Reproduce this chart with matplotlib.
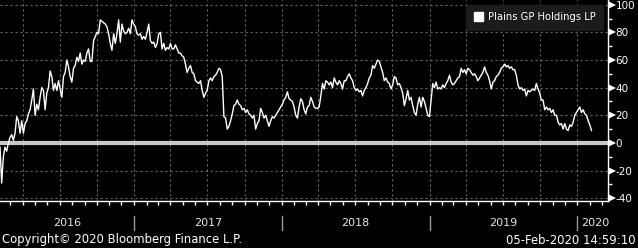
import numpy as np
import pandas as pd
import matplotlib
matplotlib.use('Agg')
import matplotlib.pyplot as plt
import matplotlib.dates as mdates
from matplotlib.patches import Patch

plt.rcParams['font.family'] = ['DejaVu Sans']
plt.rcParams['axes.unicode_minus'] = False

# series, evenly spaced from first to last date
start_date = '2016-02-05'
end_date = '2020-02-05'
values = [
    -3, -29, -10, -3, -6, 0, 4, 6, 2, 7, 19, 16, 7, 16, 7, 14, 16, 21, 24, 31,
    39, 20, 28, 24, 33, 40, 38, 24, 36, 40, 52, 48, 38, 43, 38, 45, 39, 33, 48, 51,
    60, 55, 48, 44, 54, 56, 62, 59, 65, 57, 60, 59, 65, 68, 59, 59, 74, 77, 80, 79,
    89, 88, 87, 86, 84, 79, 72, 67, 79, 72, 79, 89, 73, 86, 81, 79, 80, 83, 79, 89,
    86, 84, 79, 78, 79, 75, 77, 75, 80, 86, 74, 72, 73, 69, 72, 79, 80, 68, 72, 67,
    69, 68, 72, 68, 68, 71, 68, 65, 65, 63, 62, 57, 51, 54, 56, 51, 50, 45, 44, 43,
    45, 38, 33, 36, 38, 45, 47, 45, 48, 49, 51, 54, 53, 48, 19, 18, 10, 12, 16, 21,
    27, 28, 31, 28, 27, 24, 25, 22, 24, 21, 20, 18, 20, 10, 14, 16, 25, 22, 18, 20,
    16, 12, 16, 19, 18, 20, 22, 24, 26, 28, 31, 33, 37, 32, 31, 30, 26, 20, 18, 26,
    32, 30, 24, 21, 26, 27, 33, 30, 26, 25, 25, 26, 34, 43, 39, 45, 44, 42, 44, 40,
    47, 44, 42, 45, 43, 39, 45, 45, 48, 50, 47, 45, 40, 38, 39, 37, 38, 34, 38, 40,
    43, 47, 49, 56, 54, 57, 60, 59, 55, 51, 45, 47, 44, 43, 39, 42, 48, 47, 42, 43,
    40, 36, 27, 32, 38, 31, 33, 27, 22, 20, 28, 33, 26, 33, 30, 25, 20, 19, 31, 43,
    40, 44, 39, 40, 39, 42, 40, 43, 45, 49, 44, 42, 43, 45, 47, 48, 54, 51, 53, 50,
    54, 53, 51, 49, 50, 48, 45, 47, 49, 51, 55, 51, 49, 45, 39, 44, 45, 48, 49, 51,
    54, 55, 57, 55, 56, 54, 55, 53, 53, 49, 42, 39, 40, 38, 39, 34, 38, 37, 38, 39,
    38, 43, 39, 36, 31, 31, 24, 26, 24, 25, 22, 24, 20, 20, 15, 13, 14, 10, 14, 10,
    9, 13, 12, 15, 20, 22, 24, 26, 22, 24, 21, 20, 16, 13, 9,
]
legend_label = 'Plains GP Holdings LP'
y_ticks = [-40, -20, 0, 20, 40, 60, 80, 100]
y_minor = [-30, -10, 10, 30, 50, 70, 90]
years = [2016, 2017, 2018, 2019, 2020]
x_left = pd.Timestamp('2016-02-05')
x_right = pd.Timestamp('2020-03-16')

dates = pd.date_range(start_date, end_date, periods=len(values))

W, H = 638, 248
fig = plt.figure(figsize=(W / 100, H / 100), dpi=100, facecolor='black')
ax = fig.add_axes([0, 1 - 201 / H, 607.7 / W, 201 / H])
ax.set_facecolor('black')

ax.plot(dates, values, color='white', lw=1.0, zorder=3)
ax.axhline(0, color='#c8c8c8', lw=3, zorder=2)

ax.set_xlim(x_left, x_right)
ax.set_ylim(-42, 103.4)

for side in ['left', 'top']:
    ax.spines[side].set_visible(False)
for side in ['right', 'bottom']:
    ax.spines[side].set_color('white')
    ax.spines[side].set_linewidth(1)

ax.yaxis.tick_right()
ax.set_yticks(y_ticks)
ax.set_yticks(y_minor, minor=True)
ax.set_yticklabels([str(t) for t in y_ticks])
ax.tick_params(axis='y', which='major', length=0, pad=5.5, labelcolor='white', labelsize=7.5)
ax.tick_params(axis='y', which='minor', length=3, width=1, color='white')

ax.xaxis.set_major_locator(mdates.MonthLocator(bymonth=[1, 4, 7, 10]))
ax.xaxis.set_minor_locator(mdates.MonthLocator())
ax.tick_params(axis='x', which='both', length=3, width=1, color='white', labelbottom=False)
ax.grid(True, which='major', color='#666666', linestyle=(0, (2, 2.5)), lw=0.8, zorder=1)

# arrow-like major ticks on the right axis
ax.plot(np.full(len(y_ticks), 1.0065), y_ticks, ls='none', marker='>', ms=6,
        color='white', mew=0, transform=ax.get_yaxis_transform(), clip_on=False)

# year separators and labels under the axis
xt = ax.get_xaxis_transform()
for y in years[1:]:
    d = pd.Timestamp(f'{y}-01-01')
    ax.plot([d, d], [-0.075, -0.145], color='#9a9a9a', lw=1, transform=xt, clip_on=False)
for y in years:
    lo = max(pd.Timestamp(f'{y}-01-01'), x_left)
    hi = min(pd.Timestamp(f'{y + 1}-01-01'), x_right)
    mid = lo + (hi - lo) / 2
    if y == years[-1]:
        mid = lo + pd.Timedelta(days=45)
    ax.text(mid, -0.108, str(y), transform=xt, ha='center', va='center',
            color='#e6e6e6', fontsize=8)

ax.legend(handles=[Patch(facecolor='white', edgecolor='white', label=legend_label)],
          loc='upper right', bbox_to_anchor=(603 / 607.7, 1 - 4.7 / 201),
          borderaxespad=0, frameon=True, facecolor='#1c1c1c', edgecolor='#1c1c1c',
          framealpha=1, labelcolor='white', fontsize=7.2, handlelength=0.95,
          handleheight=0.95, handletextpad=0.45, borderpad=0.75)

fig.text(2 / W, 1 - 240 / H, 'Copyright\u00a9 2020 Bloomberg Finance L.P.',
         ha='left', va='center', color='white', fontsize=8.4)
fig.text(636 / W, 1 - 240 / H, '05-Feb-2020 14:59:10',
         ha='right', va='center', color='white', fontsize=8.4)

fig.savefig('out.png', dpi=100, facecolor='black')
